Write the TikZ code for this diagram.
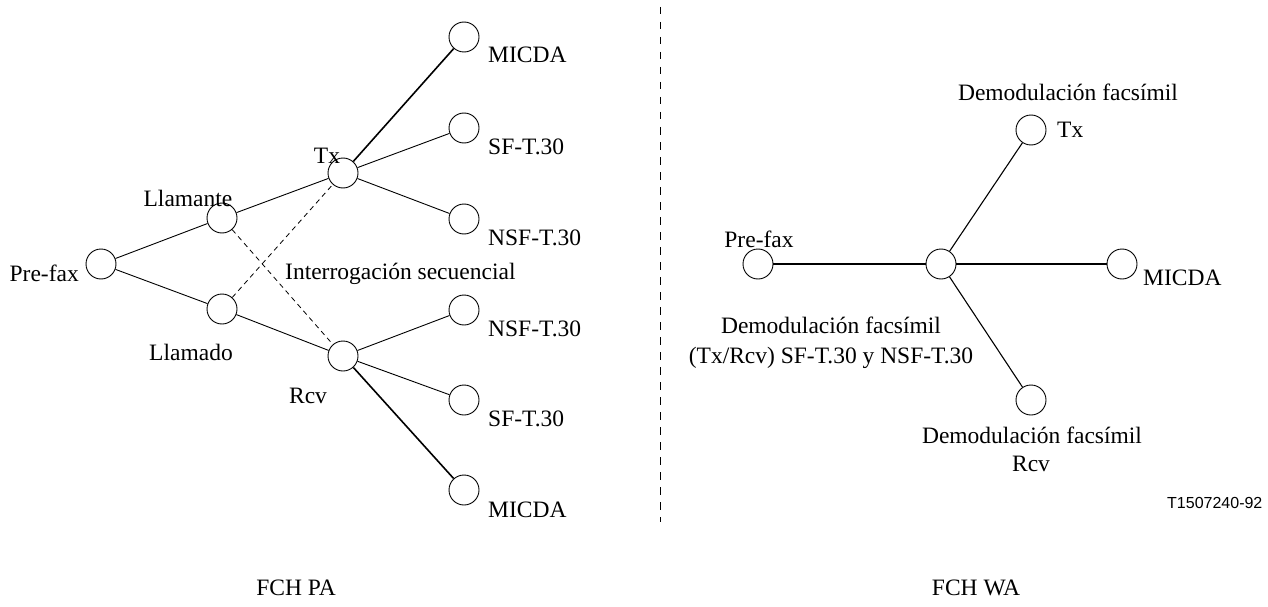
\documentclass[tikz,border=0pt]{standalone}
\usepackage{fontspec}
\setmainfont{Liberation Serif}
\newfontfamily\labelsans{Liberation Sans}
\begin{document}
\begin{tikzpicture}[x=1pt,y=-1pt,
  state/.style={circle,draw,line width=0.9pt,minimum size=30pt,inner sep=0pt},
  lbl/.style={inner sep=0pt,font=\fontsize{23.5}{28}\selectfont},
  thin link/.style={line width=0.9pt},
  thick link/.style={line width=1.6pt},
  mid link/.style={line width=1.1pt},
  poll link/.style={line width=0.8pt,dash pattern=on 5pt off 4pt},
  divider/.style={line width=0.9pt,dash pattern=on 7.5pt off 7.5pt}]
\useasboundingbox (0,0) rectangle (1268,607);

% ---------- FCH PA ----------
\node[state] (pf) at (101,264) {};
\node[state] (cg) at (222,218) {};
\node[state] (cd) at (222,309) {};
\node[state] (tx) at (343,173) {};
\node[state] (rx) at (343,356) {};
\node[state] (ma) at (464,37) {};
\node[state] (sa) at (464,128) {};
\node[state] (na) at (464,219) {};
\node[state] (nb) at (464,310) {};
\node[state] (sb) at (464,400) {};
\node[state] (mb) at (464,490) {};

\draw[thin link] (pf) -- (cg);
\draw[thin link] (pf) -- (cd);
\draw[thin link] (cg) -- (tx);
\draw[thin link] (cd) -- (rx);
\draw[poll link] (cg) -- (rx);
\draw[poll link] (cd) -- (tx);
\draw[thick link] (tx) -- (ma);
\draw[thin link] (tx) -- (sa);
\draw[thin link] (tx) -- (na);
\draw[thin link] (rx) -- (nb);
\draw[thin link] (rx) -- (sb);
\draw[thick link] (rx) -- (mb);

\node[lbl,anchor=base east] (lpf) at (79,281) {Pre-fax};
\node[lbl,anchor=base] (lcg) at (188,206) {Llamante};
\node[lbl,anchor=base] (lcd) at (191,360) {Llamado};
\node[lbl,anchor=base] (ltx) at (327,163) {Tx};
\node[lbl,anchor=base] (lrx) at (308,403) {Rcv};
\node[lbl,anchor=base west] (lpoll) at (285,279) {Interrogación secuencial};
\node[lbl,anchor=base west] (lma) at (488,63) {MICDA};
\node[lbl,anchor=base west] (lsa) at (488,154) {SF-T.30};
\node[lbl,anchor=base west] (lna) at (488,245) {NSF-T.30};
\node[lbl,anchor=base west] (lnb) at (488,336) {NSF-T.30};
\node[lbl,anchor=base west] (lsb) at (488,426) {SF-T.30};
\node[lbl,anchor=base west] (lmb) at (488,517) {MICDA};
\node[lbl,anchor=base] (tpa) at (296,595) {FCH PA};

% ---------- divider ----------
\coordinate (dtop) at (660,7);
\coordinate (dbot) at (660,522);
\draw[divider] (dtop) -- (dbot);

% ---------- FCH WA ----------
\node[state] (wpf) at (758,264) {};
\node[state] (wc) at (941,264) {};
\node[state] (wm) at (1122,264) {};
\node[state] (wt) at (1031,130) {};
\node[state] (wr) at (1031,400) {};

\draw[thick link] (wpf) -- (wc);
\draw[thick link] (wc) -- (wm);
\draw[mid link] (wc) -- (wt);
\draw[mid link] (wc) -- (wr);

\node[lbl,anchor=base] (lwpf) at (759,247) {Pre-fax};
\node[lbl,anchor=base west] (lwm) at (1143,285) {MICDA};
\node[lbl,anchor=base] (lwt1) at (1068,101) {Demodulación facsímil};
\node[lbl,anchor=base west] (lwt2) at (1057,137) {Tx};
\node[lbl,anchor=base] (lwc1) at (831,333) {Demodulación facsímil};
\node[lbl,anchor=base] (lwc2) at (831,363) {(Tx/Rcv) SF-T.30 y NSF-T.30};
\node[lbl,anchor=base] (lwr1) at (1032,443) {Demodulación facsímil};
\node[lbl,anchor=base] (lwr2) at (1031,471) {Rcv};
\node[inner sep=0pt,anchor=base west,font=\labelsans\fontsize{16}{19}\selectfont] (code) at (1167,508) {T1507240-92};
\node[lbl,anchor=base] (twa) at (976,595) {FCH WA};
\end{tikzpicture}
\end{document}
